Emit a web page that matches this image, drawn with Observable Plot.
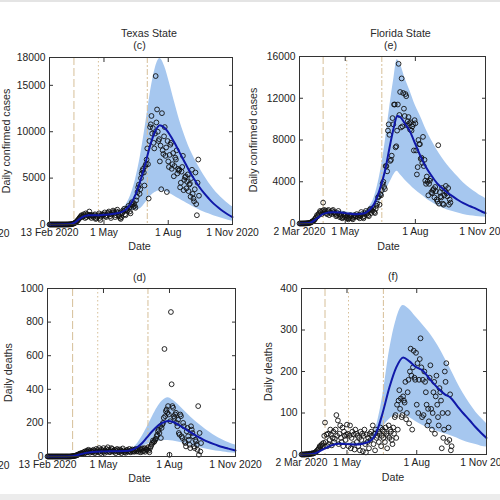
<!DOCTYPE html>
<html><head><meta charset="utf-8">
<script src="https://cdn.jsdelivr.net/npm/d3@7"></script>
<script src="https://cdn.jsdelivr.net/npm/@observablehq/plot@0.6"></script>
<style>
html,body{margin:0;padding:0;background:#fff;}
#wrap{position:relative;width:500px;height:500px;overflow:hidden;background:#fff;font-family:"Liberation Sans",Arial,sans-serif;}
.bar{position:absolute;left:0;width:500px;}
</style></head><body><div id="wrap"></div>
<script>
// ---------- data ----------
const txStart = "2020-02-13";
const flStart = "2020-03-02";

const txCases = [
 0,0,0,0,0,0,0,0,0,0,0,0,0,0,0,0,0,
 0,0,0,0,0,0,1,2,3,
 4,6,10,15,20,30,40,60,90,120,
 150,200,250,350,400,500,600,700,800,900,1000,800,
 900,1100,950,700,1200,800,1100,1000,900,1400,1050,850,700,1000,950,
 800,1000,1100,600,650,800,900,1000,1200,700,500,850,1100,1050,1000,
 1100,1300,900,800,1000,1200,1250,1400,1100,900,700,1100,1300,1500,1350,
 1200,800,1000,1400,1600,1300,1000,900,700,600,800,1200,1500,1400,1700,1100,
 1000,1600,1700,1500,2000,1800,1400,1200,2200,2400,2100,1900,2300,2000,1800,
 2600,3000,3500,4000,4300,3300,3800,5000,5500,5800,6000,5600,4200,6300,6500,
 7000,8200,6500,2800,9000,10500,10800,11700,9800,10400,8800,8200,9800,16000,11000,
 12400,10000,9000,9200,6800,8500,3800,12000,8000,7600,9500,10500,7400,8300,3500,9000,
 6800,6200,7500,8600,8800,6000,6500,7700,5200,6300,7200,7000,8000,5500,6000,
 5800,5900,4000,4500,5700,6200,7400,3700,4800,5100,5200,3900,4600,5400,3600,4300,
 4400,3000,5000,5900,3300,2800,2500,3800,5600,2200,1000,4500,7000,3100
];
const txDeaths = [
 0,0,0,0,0,0,0,0,0,0,0,0,0,0,0,0,0,
 0,0,0,0,0,0,0,0,0,0,0,0,0,0,0,0,1,1,2,
 2,3,4,5,6,8,10,12,14,16,18,20,
 15,20,25,18,30,22,28,35,25,40,30,22,35,28,30,
 25,40,35,20,28,45,30,38,25,50,30,20,42,35,28,
 50,30,22,35,45,28,55,40,30,25,38,50,45,30,35,
 28,40,20,32,45,38,30,25,42,35,20,30,48,36,25,30,
 22,35,40,28,32,45,30,25,38,42,30,35,28,40,45,
 30,35,42,28,38,45,25,40,48,30,35,50,28,45,40,
 40,55,35,25,50,60,70,80,95,85,90,100,105,120,130,
 150,160,140,180,110,170,190,200,230,640,240,270,280,260,300,250,
 10,210,860,430,300,290,240,230,250,260,200,180,220,140,130,
 250,240,120,110,200,180,90,80,60,150,170,120,100,70,50,180,
 160,140,120,60,50,100,90,70,40,300,10,140,30,80
];
const flCases = [
 0,0,0,1,2,3,5,8,10,15,20,30,40,60,
 80,100,150,200,250,300,400,500,600,800,700,900,1000,1200,1100,900,
 1200,2000,1300,1100,1250,1000,900,1200,1300,800,1100,1000,900,1200,1300,
 1100,1000,900,700,800,1000,1200,900,600,700,800,500,600,900,700,
 800,600,500,700,400,500,600,800,700,500,400,600,800,650,700,
 900,700,600,800,500,700,1100,900,600,500,700,1000,1200,900,1000,800,
 700,1300,1400,1000,1300,1200,1500,1100,1000,1400,1700,1900,2500,2600,1800,
 2800,2700,3200,3800,4000,3500,3300,5500,5500,5000,8900,9500,8500,6000,6100,
 6500,10100,9500,11400,11400,7300,7400,8900,11400,15300,10400,12600,9200,13900,9300,
 12500,11000,10300,12400,12200,9400,9800,10200,9600,9000,9700,8900,9300,9500,7000,9900,
 9600,7000,4700,5400,8000,7600,7600,6200,6300,5800,8300,5500,6100,4100,3800,
 4500,4000,2700,3800,4100,4300,3000,2900,3200,3300,2500,3500,3100,2300,2100,7500,
 1900,3000,2600,2500,3400,1900,1800,2700,3100,3600,2900,2600,3400,1800,2300,2000
];
const flDeaths = [
 0,0,0,0,0,0,1,0,1,0,1,2,1,2,3,2,3,4,
 5,6,8,10,12,15,20,18,22,25,20,28,
 45,77,30,48,20,50,25,35,60,48,22,40,55,30,38,
 60,95,45,82,25,50,70,40,30,65,20,55,45,35,48,
 72,50,20,45,70,15,40,55,25,48,12,60,50,30,45,
 20,40,10,55,35,50,8,45,60,25,5,48,30,40,15,50,
 35,55,45,70,25,50,10,60,40,45,55,30,50,65,20,
 45,60,40,55,30,65,50,15,45,70,40,60,55,35,25,
 65,50,90,95,40,120,60,130,155,110,135,90,95,140,130,
 125,175,85,100,150,180,75,200,255,190,60,210,250,185,180,245,
 120,220,100,180,230,280,210,90,180,95,200,175,150,120,70,
 110,80,185,215,110,60,100,150,175,50,140,190,120,90,70,160,
 150,130,15,100,40,60,200,175,220,30,100,65,35,145,10,20
];

// model fit: [date, mean, lower, upper]
const txCasesModel = [
 ["2020-02-13",0,0,0],["2020-03-10",20,15,25],["2020-03-20",200,170,230],["2020-03-27",600,520,680],
 ["2020-04-03",900,800,1000],["2020-04-10",1000,880,1120],["2020-04-20",1000,880,1120],["2020-05-01",1050,920,1180],
 ["2020-05-15",1150,1000,1320],["2020-05-25",1300,1100,1550],["2020-06-01",1600,1250,2050],["2020-06-08",2200,1450,3100],
 ["2020-06-15",3200,1550,4800],["2020-06-22",4700,1700,7300],["2020-06-29",6500,2300,10500],["2020-07-06",8500,3000,14000],
 ["2020-07-13",10000,3450,16700],["2020-07-20",10700,3650,17900],["2020-07-27",10400,3550,17000],["2020-08-03",9700,3350,15200],
 ["2020-08-10",8800,3050,13200],["2020-08-17",7800,2750,11300],["2020-08-24",6800,2450,9700],["2020-08-31",5800,2150,8300],
 ["2020-09-07",4900,1850,7200],["2020-09-14",4100,1600,6200],["2020-09-21",3400,1350,5300],["2020-09-28",2800,1150,4500],
 ["2020-10-05",2250,950,3800],["2020-10-12",1800,780,3200],["2020-10-19",1400,620,2700],["2020-10-26",1050,470,2250],
 ["2020-11-01",800,350,1900]
];
const flCasesModel = [
 ["2020-03-02",0,0,0],["2020-03-15",40,30,50],["2020-03-25",500,420,580],["2020-04-03",950,820,1080],
 ["2020-04-15",1080,930,1230],["2020-04-25",1050,900,1200],["2020-05-05",950,820,1080],["2020-05-15",880,760,1000],
 ["2020-05-25",950,800,1120],["2020-06-01",1250,1000,1550],["2020-06-08",1900,1400,2500],["2020-06-15",3200,2000,4500],
 ["2020-06-22",5000,3000,7600],["2020-06-29",7600,4000,11500],["2020-07-04",9300,4700,14000],["2020-07-08",10300,5000,15700],
 ["2020-07-12",10200,4700,15300],["2020-07-18",9600,4200,14000],["2020-07-25",8800,3700,12700],["2020-08-01",7600,3200,11300],
 ["2020-08-08",6400,2800,10200],["2020-08-15",5400,2400,9000],["2020-08-22",4600,2050,8000],["2020-08-29",3900,1750,7100],
 ["2020-09-05",3400,1500,6300],["2020-09-12",2950,1300,5600],["2020-09-19",2600,1150,5000],["2020-09-26",2250,1000,4450],
 ["2020-10-03",1950,870,3900],["2020-10-12",1650,740,3350],["2020-10-20",1400,680,2950],["2020-10-27",1150,620,2600],
 ["2020-11-01",1000,600,2400]
];
const txDeathsModel = [
 ["2020-02-13",0,0,0],["2020-03-15",1,1,1],["2020-03-25",8,7,9],["2020-04-05",20,18,22],
 ["2020-04-15",27,24,30],["2020-05-01",30,27,33],["2020-05-15",31,28,34],["2020-06-01",32,28,36],
 ["2020-06-10",40,34,48],["2020-06-17",55,42,75],["2020-06-24",80,58,120],["2020-07-01",115,72,175],
 ["2020-07-08",150,82,235],["2020-07-15",180,90,290],["2020-07-22",200,94,330],["2020-07-30",212,95,350],
 ["2020-08-06",205,92,335],["2020-08-13",190,86,310],["2020-08-20",172,79,280],["2020-08-27",153,71,250],
 ["2020-09-03",135,63,222],["2020-09-10",117,55,196],["2020-09-17",101,48,172],["2020-09-24",87,41,150],
 ["2020-10-01",75,36,130],["2020-10-08",64,31,112],["2020-10-15",55,27,97],["2020-10-22",47,23,84],
 ["2020-11-01",36,19,68]
];
const flDeathsModel = [
 ["2020-03-02",0,0,0],["2020-03-18",2,2,2],["2020-03-28",10,9,11],["2020-04-08",20,18,22],
 ["2020-04-20",26,23,29],["2020-05-01",25,22,28],["2020-05-12",24,21,27],["2020-05-22",26,23,30],
 ["2020-06-01",33,28,40],["2020-06-09",54,42,70],["2020-06-17",100,65,140],["2020-06-26",162,85,250],
 ["2020-07-05",210,95,325],["2020-07-14",234,98,359],["2020-07-22",225,90,350],["2020-07-30",212,80,333],
 ["2020-08-09",202,70,312],["2020-08-19",180,62,290],["2020-08-29",160,55,262],["2020-09-07",145,50,232],
 ["2020-09-14",138,46,208],["2020-09-23",118,40,175],["2020-10-01",100,33,148],["2020-10-10",82,28,122],
 ["2020-10-18",65,24,102],["2020-10-25",52,20,88],["2020-11-01",40,18,75]
];

const txEvents = ["2020-03-19","2020-04-23","2020-07-02"];
const flEvents = ["2020-04-02","2020-05-03","2020-06-18"];

const txTicks = ["2020-02-13","2020-05-01","2020-08-01","2020-11-01"];
const txTickLabels = ["13 Feb 2020","1 May","1 Aug","1 Nov 2020"];
const flTicks = ["2020-03-02","2020-05-01","2020-08-01","2020-11-01"];
const flTickLabels = ["2 Mar 2020","1 May","1 Aug","1 Nov 2020"];

const txCasesYTicks = [0,5000,10000,15000,18000];
const flCasesYTicks = [0,4000,8000,12000,16000];
const txDeathsYTicks = [0,200,400,600,800,1000];
const flDeathsYTicks = [0,100,200,300,400];

// ---------- style ----------
const bandColor = "#a6c7ef";
const lineColor = "#1018a8";
const eventColor = "#d6bf98";
const eventDash = ["8,3","1.5,2.5","6,2,2,2"];
const axisColor = "#333";
const font = "'Liberation Sans', Arial, sans-serif";

function daily(start, values) {
  const t0 = new Date(start).getTime();
  return values.map((v, i) => ({date: new Date(t0 + i * 864e5), value: v}));
}

function panel(cfg) {
  const xt = cfg.xTicks.map(d => new Date(d));
  const lab = new Map(xt.map((d, i) => [+d, cfg.xLabels[i]]));
  const model = cfg.model.map(([d, mid, lo, hi]) => ({date: new Date(d), mid, lo, hi}));
  const pts = daily(cfg.start, cfg.values);
  const blank = () => "";
  const T = (s, o) => Plot.text([s], {text: d => d, fontSize: 10.7, fill: "#2a2a2a", textAnchor: "middle", lineAnchor: "middle", ...o});
  const marks = [
    Plot.areaY(model, {x: "date", y1: "lo", y2: "hi", fill: bandColor, curve: "monotone-x"}),
    ...cfg.events.map((d, i) => Plot.ruleX([new Date(d)], {stroke: eventColor, strokeWidth: 1, strokeDasharray: eventDash[i]})),
    Plot.dot(pts, {x: "date", y: "value", r: 2.4, stroke: "#111", strokeWidth: 0.9, fill: "none"}),
    Plot.line(model, {x: "date", y: "mid", stroke: lineColor, strokeWidth: 2, curve: "monotone-x"}),
    Plot.frame({stroke: axisColor}),
    Plot.axisX({anchor: "bottom", ticks: xt, tickSize: 4, dy: -4, tickFormat: blank, label: null, stroke: axisColor}),
    Plot.axisX({anchor: "top", ticks: xt, tickSize: 4, dy: 4, tickFormat: blank, label: null, stroke: axisColor}),
    Plot.axisY({anchor: "left", ticks: cfg.yTicks, tickSize: 4, dx: 4, tickFormat: blank, label: null, stroke: axisColor}),
    Plot.axisY({anchor: "right", ticks: cfg.yTicks, tickSize: 4, dx: -4, tickFormat: blank, label: null, stroke: axisColor}),
    Plot.axisX({anchor: "bottom", ticks: xt, tickSize: 0, tickPadding: 4, tickFormat: d => lab.get(+d), label: null, fontSize: 10.3, fill: "#222"}),
    Plot.axisY({anchor: "left", ticks: cfg.yTicks, tickSize: 0, tickPadding: 4, tickFormat: d => String(d), label: null, fontSize: 10.3, fill: "#222"}),
    T("Date", {frameAnchor: "bottom", dx: cfg.dateDx, dy: cfg.dateDy}),
    T(cfg.ylabel, {frameAnchor: "left", rotate: -90, dx: cfg.ylabelDx}),
    T(cfg.sub, {frameAnchor: "top", dx: cfg.subDx, dy: cfg.subDy})
  ];
  if (cfg.title) marks.push(T(cfg.title, {frameAnchor: "top", dx: cfg.titleDx, dy: cfg.titleDy}));
  if (cfg.cutLabel) marks.push(Plot.text([cfg.cutLabel], {text: d => d, frameAnchor: "bottom-left", textAnchor: "end", lineAnchor: "middle", dx: cfg.cutDx, dy: 9.5, fontSize: 10.3, fill: "#222"}));
  const svg = Plot.plot({
    width: cfg.width, height: cfg.height,
    marginTop: cfg.m[0], marginRight: cfg.m[1], marginBottom: cfg.m[2], marginLeft: cfg.m[3],
    x: {type: "utc", domain: [new Date(cfg.xTicks[0]), new Date("2020-11-01")], axis: null},
    y: {domain: cfg.yDomain, axis: null},
    style: {background: "transparent", overflow: "visible", fontFamily: font, fontSize: "10.3px", color: "#222"},
    marks
  });
  svg.style.position = "absolute";
  svg.style.left = cfg.left + "px";
  svg.style.top = cfg.top + "px";
  return svg;
}

const wrap = document.getElementById("wrap");
const topBar = document.createElement("div");
topBar.className = "bar"; topBar.style.top = "0px"; topBar.style.height = "2px"; topBar.style.background = "#e4e4e4";
const botBar = document.createElement("div");
botBar.className = "bar"; botBar.style.top = "494px"; botBar.style.height = "6px"; botBar.style.background = "#ececec";

wrap.append(
  panel({left: 0, top: 0, width: 250, height: 250, m: [57, 18, 26, 49],
    start: txStart, values: txCases, model: txCasesModel, events: txEvents,
    xTicks: txTicks, xLabels: txTickLabels, yTicks: txCasesYTicks, yDomain: [0, 18000],
    title: "Texas State", titleDx: 8, titleDy: -24, sub: "(c)", subDx: -1.5, subDy: -12,
    ylabel: "Daily confirmed cases", ylabelDx: -43, dateDx: -1.5, dateDy: 22.5,
    cutLabel: "1 Nov 2020", cutDx: -40}),
  panel({left: 250, top: 0, width: 250, height: 250, m: [56, 15, 27, 49],
    start: flStart, values: flCases, model: flCasesModel, events: flEvents,
    xTicks: flTicks, xLabels: flTickLabels, yTicks: flCasesYTicks, yDomain: [0, 16000],
    title: "Florida State", titleDx: 8, titleDy: -23, sub: "(e)", subDx: -2, subDy: -11,
    ylabel: "Daily confirmed cases", ylabelDx: -46, dateDx: -4, dateDy: 23}),
  panel({left: 0, top: 250, width: 250, height: 243, m: [38, 15, 37, 47],
    start: txStart, values: txDeaths, model: txDeathsModel, events: txEvents,
    xTicks: txTicks, xLabels: txTickLabels, yTicks: txDeathsYTicks, yDomain: [0, 1000],
    sub: "(d)", subDx: -2, subDy: -11,
    ylabel: "Daily deaths", ylabelDx: -39, dateDx: -2, dateDy: 22,
    cutLabel: "1 Nov 2020", cutDx: -38}),
  panel({left: 250, top: 250, width: 250, height: 243, m: [38, 14, 39, 51],
    start: flStart, values: flDeaths, model: flDeathsModel, events: flEvents,
    xTicks: flTicks, xLabels: flTickLabels, yTicks: flDeathsYTicks, yDomain: [0, 400],
    sub: "(f)", subDx: -1, subDy: -12,
    ylabel: "Daily deaths", ylabelDx: -33, dateDx: -1, dateDy: 23.5}),
  topBar, botBar
);
</script></body></html>
